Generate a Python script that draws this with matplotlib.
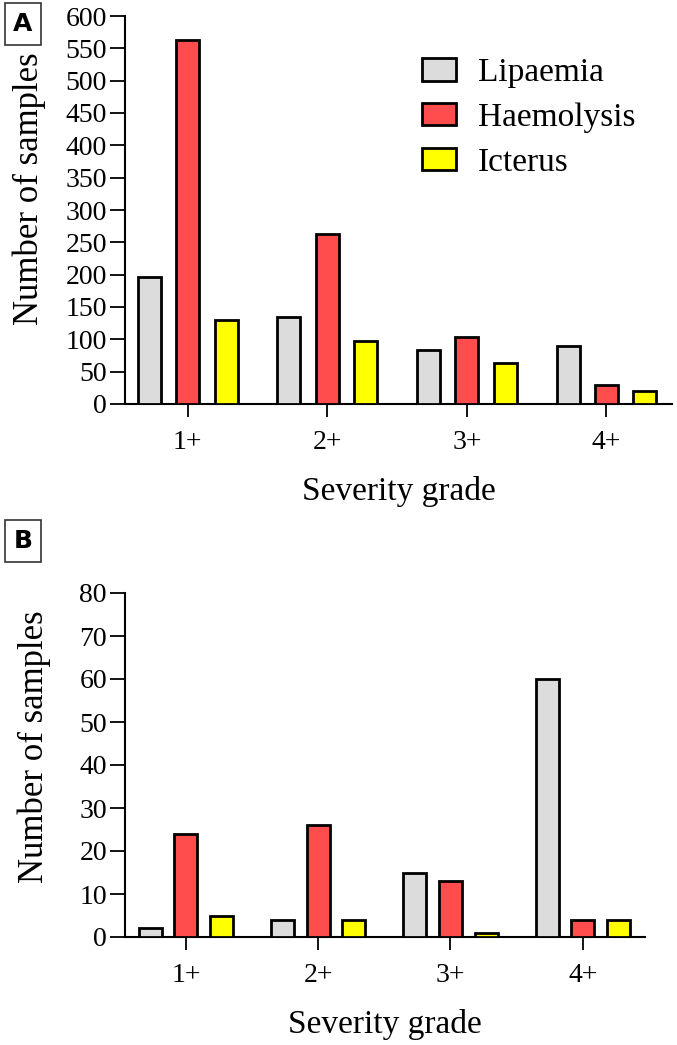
import numpy as np
import matplotlib.pyplot as plt

# Datos
grades = ["1+", "2+", "3+", "4+"]
series = ["Lipaemia", "Haemolysis", "Icterus"]
colors = ["#dcdcdc", "#ff4d4d", "#ffff00"]

lip_a = [197, 135, 84, 90]
hae_a = [563, 263, 104, 30]
ict_a = [130, 98, 64, 20]

lip_b = [2, 4, 15, 60]
hae_b = [24, 26, 13, 4]
ict_b = [5, 4, 1, 4]

plt.rcParams['font.family'] = ['Liberation Serif', 'DejaVu Serif']

W, H = 677, 1045
fig = plt.figure(figsize=(W / 100, H / 100), dpi=100)


def px_axes(x0, y0, x1, y1):
    return fig.add_axes([x0 / W, 1 - y1 / H, (x1 - x0) / W, (y1 - y0) / H])


def draw_panel(ax, data, ymax, step, width, offset, xlim, legend=False):
    x = np.arange(len(grades))
    for i, (vals, name, c) in enumerate(zip(data, series, colors)):
        ax.bar(x + (i - 1) * offset, vals, width, color=c, edgecolor='black',
               linewidth=2, label=name, zorder=3)
    ax.set_xlim(*xlim)
    ax.set_ylim(0, ymax)
    ax.set_yticks(np.arange(0, ymax + 1, step))
    ax.set_xticks(x)
    ax.set_xticklabels(grades)
    for s in ['top', 'right']:
        ax.spines[s].set_visible(False)
    for s in ['left', 'bottom']:
        ax.spines[s].set_linewidth(1.5)
    ax.tick_params(axis='both', labelsize=20, width=1.3)
    ax.tick_params(axis='y', length=11, pad=2)
    ax.tick_params(axis='x', length=9, pad=10)
    ax.set_ylabel("Number of samples", fontsize=25)
    ax.set_xlabel("Severity grade", fontsize=24, labelpad=15)
    if legend:
        ax.legend(loc='upper left', bbox_to_anchor=(0.543, 0.893), frameon=False,
                  fontsize=24, handlelength=1.03, handleheight=0.67,
                  handletextpad=0.64, labelspacing=0.43,
                  borderpad=0, borderaxespad=0)


axA = px_axes(125, 16, 672, 404)
draw_panel(axA, [lip_a, hae_a, ict_a], 600, 50, 0.165, 0.275, (-0.45, 3.47), legend=True)
axA.yaxis.set_label_coords(-0.144, 0.554)

axB = px_axes(125, 593, 645, 937)
draw_panel(axB, [lip_b, hae_b, ict_b], 80, 10, 0.175, 0.27, (-0.46, 3.47))
axB.yaxis.set_label_coords(-0.142, 0.552)

# Etiquetas de panel
for lab, yp in [("A", 24), ("B", 541)]:
    fig.text(23 / W, 1 - yp / H, lab, fontsize=18, fontweight='bold',
             family='DejaVu Sans', ha='center', va='center',
             bbox=dict(boxstyle='square,pad=0.35', facecolor='white',
                       edgecolor='#333333', linewidth=1.2))

fig.savefig("out.png", dpi=100)
